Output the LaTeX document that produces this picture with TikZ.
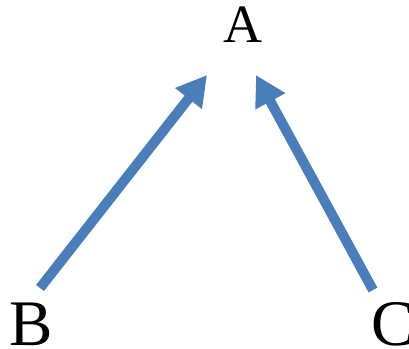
\documentclass[tikz,border=0pt]{standalone}
\usepackage{fontspec}
\setmainfont{Liberation Serif}
\usetikzlibrary{arrows.meta}
\definecolor{arrblue}{RGB}{74,126,187}
\begin{document}
\begin{tikzpicture}[x=1pt,y=1pt,
  lbl/.style={inner sep=0pt, anchor=base},
  bigarrow/.style={draw=arrblue, line width=10pt, -{Triangle[length=30pt,width=32pt]}}]
\useasboundingbox (0,0) rectangle (409,348);
\node[lbl, font=\fontsize{54}{54}\selectfont] (A) at (243,305) {A};
\node[lbl, font=\fontsize{65}{65}\selectfont] (B) at (31,3) {B};
\node[lbl, anchor=base west, font=\fontsize{65}{65}\selectfont] (C) at (371,3) {C};
\coordinate (bt) at (40,60);
\coordinate (bh) at (207,273);
\coordinate (ct) at (373,58);
\coordinate (ch) at (256,273);
\draw[bigarrow] (bt) -- (bh);
\draw[bigarrow] (ct) -- (ch);
\end{tikzpicture}
\end{document}
